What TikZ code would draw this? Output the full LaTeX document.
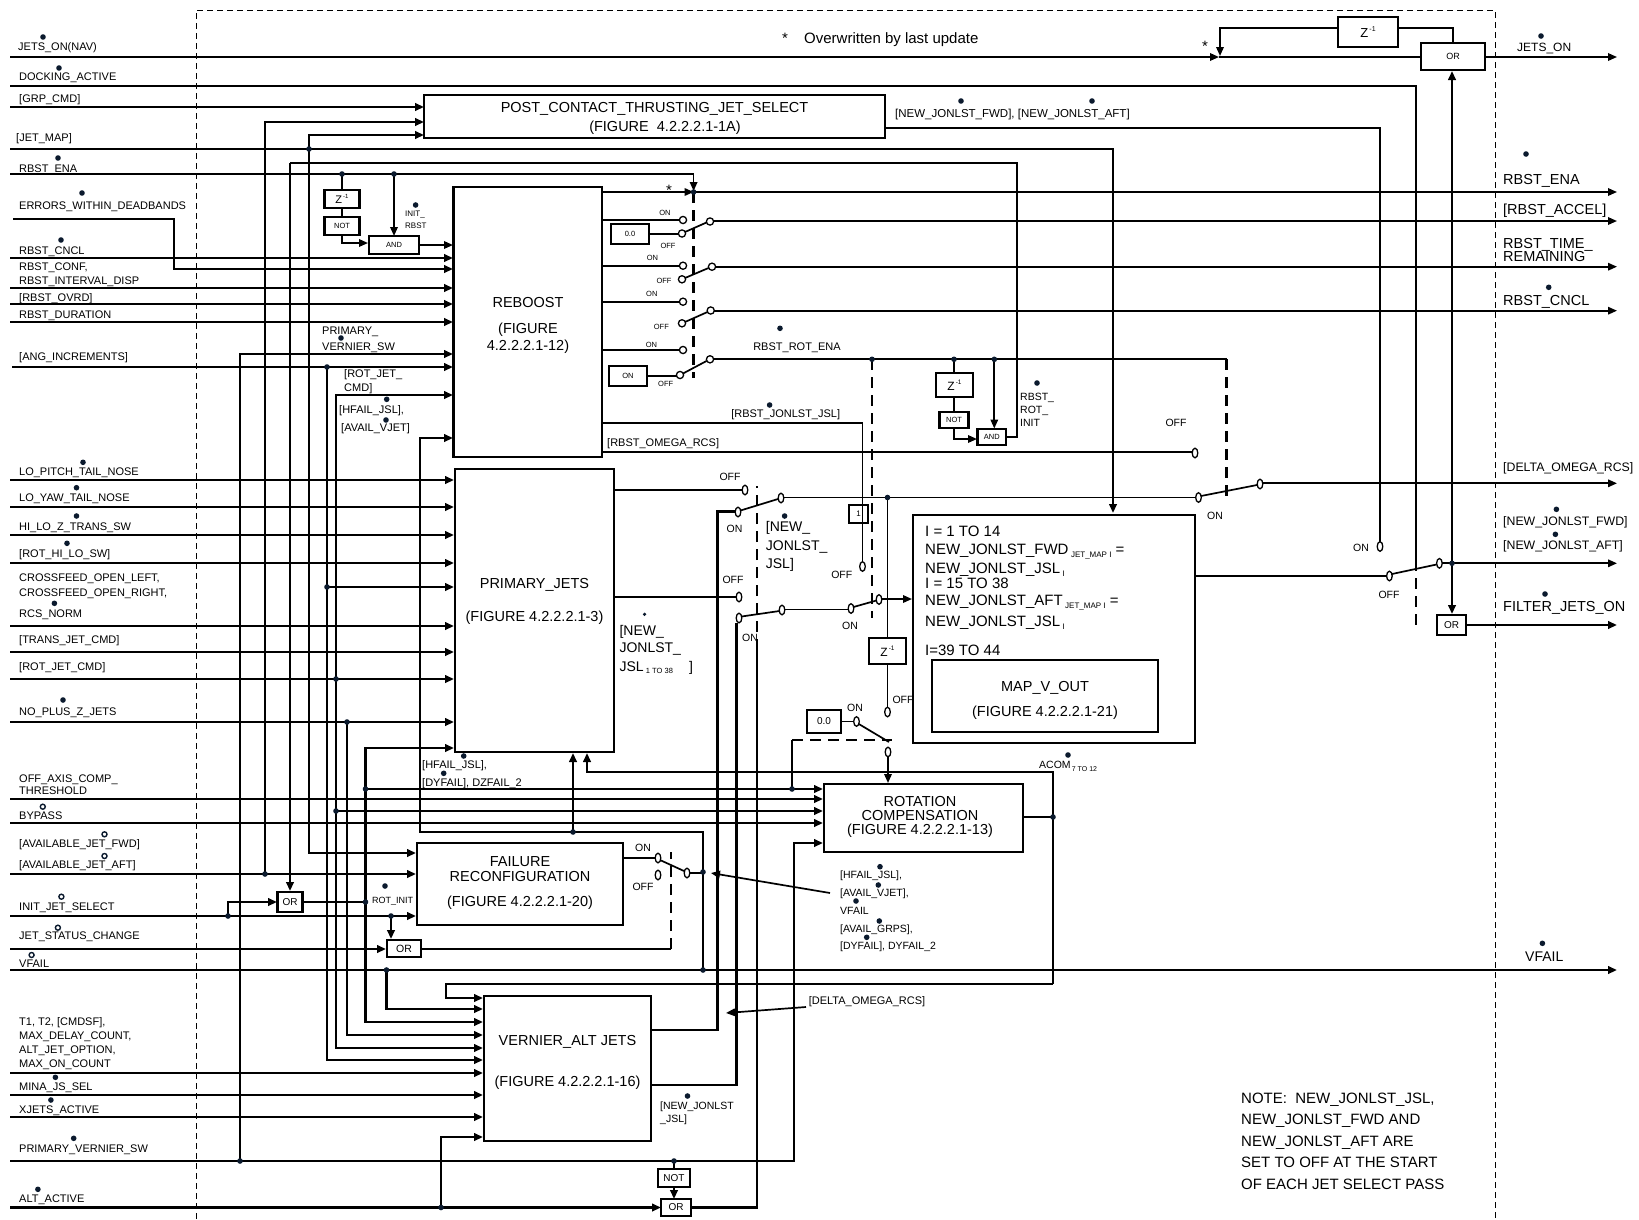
\documentclass[tikz,border=0pt]{standalone}
\usepackage{fontspec}
\setmainfont{Liberation Sans}
\usetikzlibrary{arrows.meta}
\definecolor{dotc}{HTML}{0B1A2E}
\newcommand{\fs}[1]{\fontsize{#1}{#1}\selectfont}
\newcommand{\zinv}[1]{Z\raisebox{0.5em}{\fontsize{#1}{#1}\selectfont\,-1}}
\newcommand{\ctc}[1]{\draw[line width=1.3pt,fill=white] (#1) ellipse (2.8pt and 4.8pt);}
\newcommand{\ctr}[1]{\draw[line width=1.3pt,fill=white] (#1) circle (3.6pt);}
\tikzset{
 w/.style={line width=2.5pt},
 t/.style={line width=1.7pt},
 arr/.style={-{Triangle[length=9pt,width=7.5pt]}},
 bx/.style={draw,line width=2.5pt,inner sep=0pt,fill=white},
 sbx/.style={draw,line width=2.1pt,inner sep=0pt,fill=white},
 ctl/.style={line width=2.5pt,dash pattern=on 11pt off 7pt},
 L/.style={anchor=base west,inner sep=0pt,font=\fs{#1},yshift={-0.36*#1pt}},
 C/.style={anchor=base,inner sep=0pt,font=\fs{#1},yshift={-0.36*#1pt}},
}
\begin{document}
\begin{tikzpicture}[x=1pt,y=-1pt]
\useasboundingbox (0,0) rectangle (1639,1219);
\fill[white] (0,0) rectangle (1639,1219);
% frame
\draw[line width=0.9pt,dash pattern=on 6pt off 4pt] (196,1219) -- (196,10) -- (1495,10) -- (1495,1219);

% ---------- wires ----------
% JETS_ON(NAV)
\draw[t,arr] (10,57) -- (1219,57);
\draw[t] (1219,57) -- (1421,57);
\draw[t] (1453,43) -- (1453,28) -- (1398,28);
\draw[t,arr] (1338,28) -- (1220,28) -- (1220,56);
% DOCKING_ACTIVE
\draw[w] (10,86) -- (1416,86) -- (1416,560);
\draw[ctl] (1416,560) -- (1416,628);
% GRP_CMD / JET_MAP
\draw[w,arr] (10,107) -- (424,107);
\draw[w,arr] (265,874) -- (265,122) -- (424,122);
\draw[w,arr] (10,149) -- (1113,149) -- (1113,513);
\draw[w,arr] (309,149) -- (309,135) -- (424,135);
\draw[w,arr] (309,149) -- (309,853) -- (416,853);
\draw[t] (885,128) -- (1380,128) -- (1380,542);
% RBST_ROT_INIT
\draw[t] (1006,437) -- (1017,437) -- (1017,163) -- (290,163);
\draw[w,arr] (290,163) -- (290,891);
% RBST_ENA
\draw[t,arr] (10,174) -- (693.6,174) -- (693.6,191);
\draw[t,arr] (602,192) -- (693.6,192);
\draw[t,arr] (693.6,192) -- (1617,192);
\draw[ctl] (693.6,192) -- (693.6,378);
\draw[t] (342,174) -- (342,190);
\draw[t] (342,208) -- (342,217);
\draw[t,arr] (342,235) -- (342,243) -- (368,243);
\draw[t,arr] (394,174) -- (394,236);
\draw[t,arr] (419,245) -- (453,245);
% REBOOST inputs
\draw[w,arr] (13,219) -- (174,219) -- (174,269) -- (453,269);
\draw[w,arr] (10,258) -- (453,258);
\draw[w,arr] (10,288) -- (453,288);
\draw[w,arr] (10,304) -- (453,304);
\draw[w,arr] (10,322) -- (453,322);
\draw[w,arr] (240,1161) -- (240,354) -- (453,354);
\draw[w,arr] (12,367) -- (453,367);
\draw[w,arr] (327,367) -- (327,1060) -- (483,1060);
\draw[w,arr] (327,587) -- (454,587);
\draw[w,arr] (336,679) -- (336,395) -- (453,395);
\draw[w,arr] (336,679) -- (336,1048) -- (483,1048);
\draw[w,arr] (336,811) -- (823,811);
\draw[w,arr] (703,872) -- (703,832) -- (420,832) -- (420,438) -- (453,438);
\draw[w] (703,872) -- (703,970);
\draw[w,arr] (573,832) -- (573,753);
% PRIMARY inputs
\foreach \yy in {480,507,535,563,626,652,679,722} {\draw[w,arr] (10,\yy) -- (454,\yy);}
\draw[w,arr] (347,722) -- (347,1035) -- (483,1035);
% ROT_INIT
\draw[w] (302,902) -- (365.5,902);
\draw[w,arr] (365.5,902) -- (365.5,748) -- (454,748);
\draw[w,arr] (365.5,789) -- (823,789);
\draw[w,arr] (365.5,902) -- (365.5,1022) -- (483,1022);
\draw[w] (792,789) -- (792,740);
\draw[ctl] (792,740) -- (892,740);
\draw[w,arr] (10,799) -- (823,799);
\draw[w,arr] (10,823) -- (823,823);
% PRIMARY_VERNIER_SW
\draw[w,arr] (10,1161) -- (794,1161) -- (794,843) -- (823,843);
\draw[w] (674,1161) -- (674,1169);
\draw[w,arr] (674,1187) -- (674,1199);
% ALT_ACTIVE
\draw[w,arr] (10,1207.5) -- (661,1207.5);
\draw[w,arr] (441,1207.5) -- (441,1137) -- (483,1137);
\draw[w] (691,1207.5) -- (757,1207.5) -- (757,650);
\draw[ctl] (757,650) -- (757,486);
% FAILURE inputs
\draw[w,arr] (10,874) -- (416,874);
\draw[w,arr] (10,916) -- (416,916);
\draw[w,arr] (228,916) -- (228,902) -- (277,902);
\draw[w,arr] (391,916) -- (391,939);
\draw[w,arr] (10,949) -- (386,949);
\draw[w] (421,949) -- (671,949);
\draw[ctl] (671,949) -- (671,852);
% VFAIL
\draw[w,arr] (10,970) -- (1617,970);
\draw[w,arr] (386.5,970) -- (386.5,1009) -- (483,1009);
% ACOM
\draw[w] (1023,817) -- (1053,817);
\draw[w,arr] (1053,984) -- (1053,772) -- (587,772) -- (587,753);
\draw[w,arr] (1053,984) -- (446,984) -- (446,998) -- (483,998);
\draw[w,arr] (10,1073) -- (483,1073);
\draw[w,arr] (10,1095) -- (483,1095);
\draw[w,arr] (10,1117) -- (483,1117);
% FAILURE switch
\draw[t] (623,858) -- (655,858);
\draw[t] (660,860) -- (684,871);
\draw[t] (690,873) -- (703,873);
\draw[t,arr] (830,893) -- (711,873);
% VERNIER outputs
\draw[w] (651,1030) -- (717.5,1030) -- (717.5,511.7) -- (735,511.7);
\draw[w] (651,1085) -- (736.4,1085) -- (736.4,623);
\draw[t,arr] (806,1007) -- (726,1013);
% PRIMARY switches
\draw[t] (614,490) -- (742,490);
\draw[t] (740.5,510.5) -- (778,499);
\draw[t] (784,497.5) -- (1196,497.5);
\draw[t] (614,597) -- (736,597);
\draw[t] (741.5,616.5) -- (779.5,611);
\draw[t] (785,609.5) -- (848,609.5);
\draw[t] (853.5,607) -- (876.5,600.5);
\draw[t,arr] (882,599) -- (912,599);
\draw[t] (602,423) -- (862.5,423) -- (862.5,562);
\draw[ctl] (872,359) -- (872,618);
\draw[t] (887.5,497.5) -- (887.5,638);
\draw[t] (887.5,664) -- (887.5,708);
% 0.0 switch
\draw[t] (841,721.5) -- (853.5,721.5);
\draw[t] (858,723.5) -- (889,742);
\draw[t,arr] (888,756) -- (888,783);
% REBOOST switches
\draw[t] (602,220) -- (679.5,220);
\draw[t] (649,234) -- (678.5,234);
\draw[t] (685,232) -- (706.5,222.5);
\draw[t,arr] (713.5,221) -- (1617,221);
\draw[t] (602,265.7) -- (679.5,265.7);
\draw[t] (685,278) -- (708.5,268);
\draw[t,arr] (715.5,266.7) -- (1617,266.7);
\draw[t] (602,301.7) -- (679.5,301.7);
\draw[t] (685,322) -- (707.5,312);
\draw[t,arr] (714,310.7) -- (1617,310.7);
\draw[t] (602,350) -- (679.5,350);
\draw[t] (647,376) -- (676.5,376);
\draw[t] (683,373.5) -- (706.5,361);
\draw[t] (713.5,359.3) -- (1226.6,359.3);
\draw[ctl] (1226.6,359.3) -- (1226.6,502);
\draw[t] (954,359.3) -- (954,373);
\draw[t] (954,397) -- (954,412);
\draw[t,arr] (954,428) -- (954,439) -- (977,439);
\draw[t,arr] (994.3,359.3) -- (994.3,428.5);
% RBST_OMEGA / DELTA switch
\draw[t] (602,452.3) -- (1192,452.3);
\draw[t] (1201,496) -- (1257,485);
\draw[t,arr] (1263,483.3) -- (1617,483.3);
% MAP output switch
\draw[t] (1195,576) -- (1386.5,576);
\draw[t] (1392,574) -- (1436.5,564.5);
\draw[t,arr] (1442.3,563.3) -- (1617,563.3);
\draw[w,arr] (1452,563.3) -- (1452,71);
\draw[w,arr] (1452,563.3) -- (1452,614);
\draw[w,arr] (1466,625) -- (1617,625);
\draw[t,arr] (1485,57) -- (1617,57);

% ---------- boxes ----------
\node[bx,minimum width=461pt,minimum height=43pt] (post) at (654.5,116.5) {};
\node[bx,minimum width=148.5pt,minimum height=270pt] (reboost) at (527.75,322) {};
\node[bx,minimum width=159pt,minimum height=283pt] (prim) at (534.5,610.5) {};
\node[bx,minimum width=206pt,minimum height=82pt] (fail) at (520,884) {};
\node[bx,minimum width=167pt,minimum height=145pt] (vern) at (567.5,1068.5) {};
\node[bx,minimum width=199pt,minimum height=68pt] (rot) at (923.5,818) {};
\node[bx,minimum width=282pt,minimum height=228pt] (map) at (1054,629) {};
\node[bx,minimum width=226pt,minimum height=72pt] (mapv) at (1045,696) {};
\node[sbx,minimum width=60pt,minimum height=30pt] (zA) at (1368,32) {\fs{13}\zinv{7}};
\node[sbx,minimum width=64pt,minimum height=27pt] (orA) at (1453,56.5) {\fs{9}OR};
\node[sbx,minimum width=29pt,minimum height=20pt] (orF) at (1451.5,625) {\fs{10}OR};
\node[sbx,minimum width=35pt,minimum height=18pt] (zR) at (342,199) {\fs{11}\zinv{6}};
\node[sbx,minimum width=35pt,minimum height=18pt] (notR) at (342,226) {\fs{7.5}NOT};
\node[sbx,minimum width=50.5pt,minimum height=18pt] (andR) at (394,245) {\fs{7.5}AND};
\node[sbx,minimum width=37pt,minimum height=24pt] (zK) at (954.5,385) {\fs{12}\zinv{6.5}};
\node[sbx,minimum width=29pt,minimum height=16pt] (notK) at (954,420) {\fs{7.5}NOT};
\node[sbx,minimum width=28.5pt,minimum height=16pt] (andK) at (991.75,437) {\fs{7.5}AND};
\node[sbx,minimum width=37pt,minimum height=26pt] (zP) at (887.5,651) {\fs{12}\zinv{6.5}};
\node[draw,line width=2.1pt,inner sep=0pt,minimum width=19pt,minimum height=18pt] (box1) at (858.5,514) {\fs{8}1};
\node[sbx,minimum width=38pt,minimum height=20pt] (c00) at (630,234) {\fs{7.5}0.0};
\node[sbx,minimum width=38pt,minimum height=20pt] (cON) at (628,376) {\fs{7.5}ON};
\node[sbx,minimum width=34pt,minimum height=23pt] (c00b) at (824,721.5) {\fs{10}0.0};
\node[sbx,minimum width=25pt,minimum height=20pt] (orI) at (290,902) {\fs{10}OR};
\node[sbx,minimum width=34pt,minimum height=17pt] (orS) at (404,948.5) {\fs{10.5}OR};
\node[sbx,minimum width=32pt,minimum height=18pt] (notV) at (674,1178) {\fs{10}NOT};
\node[sbx,minimum width=30pt,minimum height=17pt] (orV) at (676,1207.5) {\fs{10}OR};

% ---------- contacts ----------
\ctc{658,858} \ctc{658,875} \ctc{687,873}
\ctc{745,490} \ctc{738,512} \ctc{781,498}
\ctc{739,597} \ctc{739,618} \ctc{782,610}
\ctc{851,608.5} \ctc{879,599.5} \ctc{862.5,566.5}
\ctc{887.5,712} \ctc{856.5,721.5} \ctc{888,752}
\ctr{683,220} \ctr{682,233.5} \ctr{710,221.5}
\ctr{683,265.7} \ctr{682,279.3} \ctr{712,266.7}
\ctr{683,301.7} \ctr{682,323.3} \ctr{710.7,310.5}
\ctr{683,350} \ctr{680,375} \ctr{710,359.3}
\ctc{1195,453} \ctc{1198.5,497.5} \ctc{1260,484}
\ctc{1389.4,576} \ctc{1380,546.5} \ctc{1439.4,563.3}

% ---------- junction dots ----------
\foreach \p in {{309,149},{342,174},{394,174},{693.6,192},{327,367},{327,587},{336,679},{336,811},{347,722},{365.5,789},{365.5,902},{792,789},{265,874},{228,916},{391,916},{386.5,970},{703,970},{703,872},{573,832},{240,1161},{674,1161},{441,1207.5},{1053,817},{872,359.3},{954,359.3},{994.3,359.3},{887.5,497.5},{1452,563.3}} {\fill[dotc] (\p) circle (2.8pt);}

% ---------- label bullets ----------
\foreach \p in {{43,37},{59,68},{58,158},{82,193},{61,240},{415.6,205},{341,338},{386.7,399.3},{386,420},{83,462.3},{76.5,487.7},{76.5,516},{67,543.3},{54.4,603.3},{63,700},{463.7,756},{443.7,773.3},{385,886},{55.4,1077.3},{50.9,1100},{73.7,1138.3},{37.9,1189.3},{1541,36},{1526,154},{1548.7,287.3},{1556.4,509.3},{1555.4,534.3},{1545,594},{1542.4,943.3},{961,101},{1092,101},{780,328.3},{769.6,405},{1037,383},{784.6,516},{1068,755},{880,866.7},{878.3,885},{856,901},{879.3,921},{866.7,937.3},{687.5,1096}} {\fill[dotc] (\p) circle (2.8pt);}
\fill[dotc] (644.6,614.3) circle (1.8pt);
\foreach \p in {{42.8,806.7},{104.5,834.3},{104.5,856},{61.4,896.7},{57.9,927.7},{31.6,955}} {\draw[dotc,line width=1.4pt,fill=white] (\p) circle (2.5pt);}

% ---------- left labels ----------
\node[L=11] (l1) at (18,47) {JETS\_ON(NAV)};
\node[L=11] (l2) at (19,77) {DOCKING\_ACTIVE};
\node[L=11] (l3) at (19,99) {[GRP\_CMD]};
\node[L=11] (l4) at (16,138) {[JET\_MAP]};
\node[L=11] (l5) at (19,169) {RBST\_ENA};
\node[L=11] (l6) at (19,206) {ERRORS\_WITHIN\_DEADBANDS};
\node[L=11] (l7) at (19,251) {RBST\_CNCL};
\node[L=11] (l8) at (19,267) {RBST\_CONF,};
\node[L=11] (l9) at (19,281) {RBST\_INTERVAL\_DISP};
\node[L=11] (l10) at (19,298) {[RBST\_OVRD]};
\node[L=11] (l11) at (19,315) {RBST\_DURATION};
\node[L=11] (l12) at (19,357) {[ANG\_INCREMENTS]};
\node[L=11] (l13) at (322,331) {PRIMARY\_};
\node[L=11] (l14) at (322,347) {VERNIER\_SW};
\node[L=11] (l15) at (344,374) {[ROT\_JET\_};
\node[L=11] (l16) at (344,388) {CMD]};
\node[L=11] (l17) at (339,410) {[HFAIL\_JSL],};
\node[L=11] (l18) at (341,428) {[AVAIL\_VJET]};
\node[L=11] (l19) at (19,471.7) {LO\_PITCH\_TAIL\_NOSE};
\node[L=11] (l20) at (19,497.7) {LO\_YAW\_TAIL\_NOSE};
\node[L=11] (l21) at (19,526.7) {HI\_LO\_Z\_TRANS\_SW};
\node[L=11] (l22) at (19,554) {[ROT\_HI\_LO\_SW]};
\node[L=11] (l23) at (19,577.3) {CROSSFEED\_OPEN\_LEFT,};
\node[L=11] (l24) at (19,592.3) {CROSSFEED\_OPEN\_RIGHT,};
\node[L=11] (l25) at (19,613.3) {RCS\_NORM};
\node[L=11] (l26) at (19,639.3) {[TRANS\_JET\_CMD]};
\node[L=11] (l27) at (19,666.7) {[ROT\_JET\_CMD]};
\node[L=11] (l28) at (19,711.7) {NO\_PLUS\_Z\_JETS};
\node[L=11] (l29) at (422,765) {[HFAIL\_JSL],};
\node[L=11] (l30) at (422,782.7) {[DYFAIL], DZFAIL\_2};
\node[L=11] (l31) at (19,778.3) {OFF\_AXIS\_COMP\_};
\node[L=11] (l32) at (19,791) {THRESHOLD};
\node[L=11] (l33) at (19,815.7) {BYPASS};
\node[L=11] (l34) at (19,843.3) {[AVAILABLE\_JET\_FWD]};
\node[L=11] (l35) at (19,865) {[AVAILABLE\_JET\_AFT]};
\node[L=11] (l36) at (19,906.7) {INIT\_JET\_SELECT};
\node[L=9] (l37) at (372,900) {ROT\_INIT};
\node[L=11] (l38) at (19,935.7) {JET\_STATUS\_CHANGE};
\node[L=11] (l39) at (19,964) {VFAIL};
\node[L=11] (l40) at (19,1021.7) {T1, T2, [CMDSF],};
\node[L=11] (l41) at (19,1036) {MAX\_DELAY\_COUNT,};
\node[L=11] (l42) at (19,1050) {ALT\_JET\_OPTION,};
\node[L=11] (l43) at (19,1064) {MAX\_ON\_COUNT};
\node[L=11] (l44) at (19,1086.7) {MINA\_JS\_SEL};
\node[L=11] (l45) at (19,1110) {XJETS\_ACTIVE};
\node[L=11] (l46) at (19,1148.3) {PRIMARY\_VERNIER\_SW};
\node[L=11] (l47) at (19,1199) {ALT\_ACTIVE};
\node[L=8] (l48) at (405,214) {INIT\_};
\node[L=8] (l49) at (405,226) {RBST};

% ---------- right labels ----------
\node[L=12] (o1) at (1517,47) {JETS\_ON};
\node[L=14.5] (o2) at (1503,179) {RBST\_ENA};
\node[L=14.5] (o3) at (1503,209) {[RBST\_ACCEL]};
\node[L=14.5] (o4) at (1503,243.3) {RBST\_TIME\_};
\node[L=14.5] (o5) at (1503,256.7) {REMAINING};
\node[L=14.5] (o6) at (1503,300) {RBST\_CNCL};
\node[L=12.3] (o7) at (1503,466.7) {[DELTA\_OMEGA\_RCS]};
\node[L=12.3] (o8) at (1503,520.7) {[NEW\_JONLST\_FWD]};
\node[L=12.3] (o9) at (1503,545) {[NEW\_JONLST\_AFT]};
\node[L=14.5] (o10) at (1503,606.7) {FILTER\_JETS\_ON};
\node[L=14] (o11) at (1525,956.7) {VFAIL};

% ---------- box texts ----------
\node[C=14.5] (tp1) at (654.5,107) {POST\_CONTACT\_THRUSTING\_JET\_SELECT};
\node[C=14.5] (tp2) at (665,126) {(FIGURE~~4.2.2.2.1-1A)};
\node[C=14.5] (tr1) at (528,302) {REBOOST};
\node[C=14.5] (tr2) at (528,328) {(FIGURE};
\node[C=14.5] (tr3) at (528,345) {4.2.2.2.1-12)};
\node[C=14.5] (tq1) at (534.5,583.3) {PRIMARY\_JETS};
\node[C=14.5] (tq2) at (534.5,616) {(FIGURE 4.2.2.2.1-3)};
\node[C=14.5] (tf1) at (520,861) {FAILURE};
\node[C=14.5] (tf2) at (520,876.7) {RECONFIGURATION};
\node[C=14.5] (tf3) at (520,901) {(FIGURE 4.2.2.2.1-20)};
\node[C=14.5] (tv1) at (567.5,1040.7) {VERNIER\_ALT JETS};
\node[C=14.5] (tv2) at (567.5,1081) {(FIGURE 4.2.2.2.1-16)};
\node[C=14.5] (tc1) at (920,801.7) {ROTATION};
\node[C=14.5] (tc2) at (920,815) {COMPENSATION};
\node[C=14.5] (tc3) at (920,829.3) {(FIGURE 4.2.2.2.1-13)};
\node[C=14.5] (tm1) at (1045,686.7) {MAP\_V\_OUT};
\node[C=14.5] (tm2) at (1045,711.7) {(FIGURE 4.2.2.2.1-21)};
\node[L=15] (m1) at (925,531) {I = 1 TO 14};
\node[L=15] (m2) at (925,549.3) {NEW\_JONLST\_FWD\,\raisebox{-3pt}{\fs{8}JET\_MAP I} =};
\node[L=15] (m3) at (925,568.3) {NEW\_JONLST\_JSL\,\raisebox{-3pt}{\fs{8}I}};
\node[L=15] (m4) at (925,583.3) {I = 15 TO 38};
\node[L=15] (m5) at (925,600) {NEW\_JONLST\_AFT\,\raisebox{-3pt}{\fs{8}JET\_MAP I} =};
\node[L=15] (m6) at (925,620.7) {NEW\_JONLST\_JSL\,\raisebox{-3pt}{\fs{8}I}};
\node[L=15] (m7) at (925,650) {I=39 TO 44};

% ---------- misc labels ----------
\node[C=15] (st1) at (785,38) {*};
\node[L=15] (ow) at (804,38) {Overwritten by last update};
\node[C=15] (st2) at (1205,46) {*};
\node[C=15] (st3) at (669,190) {*};
\node[L=11.5] (nj) at (895,113) {[NEW\_JONLST\_FWD], [NEW\_JONLST\_AFT]};
\foreach \nm/\xx/\yy/\tx in {s1/665/212.3/ON,s2/668/245.7/OFF,s3/652.5/257.3/ON,s4/664/280.7/OFF,s5/651.8/293.3/ON,s6/661.4/326.7/OFF,s7/651.4/344.3/ON,s8/665.7/383.3/OFF}
  {\node[C=7.5] (\nm) at (\xx,\yy) {\tx};}
\foreach \nm/\xx/\yy/\tx in {s9/730/476.7/OFF,s10/734.6/529/ON,s11/733/580/OFF,s12/750/637.3/ON,s13/841.8/575/OFF,s14/850/626/ON,s15/1176/423/OFF,s16/1215/516/ON,s17/903/700/OFF,s18/855/708/ON,s19/1361/548/ON,s20/1389/595/OFF,s21/643/848/ON,s22/643/886.7/OFF}
  {\node[C=10.5] (\nm) at (\xx,\yy) {\tx};}
\node[C=11] (rre) at (797,346.7) {RBST\_ROT\_ENA};
\node[C=11] (rjj) at (785.7,413.3) {[RBST\_JONLST\_JSL]};
\node[L=11] (ror) at (607,442.7) {[RBST\_OMEGA\_RCS]};
\node[L=10.5] (rri1) at (1020,397) {RBST\_};
\node[L=10.5] (rri2) at (1020,410) {ROT\_};
\node[L=10.5] (rri3) at (1020,423) {INIT};
\node[L=14] (nj1) at (765.7,526.7) {[NEW\_};
\node[L=14] (nj2) at (765.7,545) {JONLST\_};
\node[L=14] (nj3) at (765.7,563.3) {JSL]};
\node[L=14] (nk1) at (619.3,630) {[NEW\_};
\node[L=14] (nk2) at (619.3,647.7) {JONLST\_};
\node[L=14] (nk3) at (619.3,666.7) {JSL\,\raisebox{-1.5pt}{\fs{7.5}1 TO 38}};
\node[L=14] (nk4) at (689,666.7) {]};
\node[L=10.5] (acom) at (1039,765) {ACOM\raisebox{-3pt}{\fs{7}\,7 TO 12}};
\node[L=10.5] (h1) at (840,874.3) {[HFAIL\_JSL],};
\node[L=10.5] (h2) at (840,892.3) {[AVAIL\_VJET],};
\node[L=10.5] (h3) at (840,910.7) {VFAIL};
\node[L=10.5] (h4) at (840,928.3) {[AVAIL\_GRPS],};
\node[L=10.5] (h5) at (840,946) {[DYFAIL], DYFAIL\_2};
\node[L=11] (dor) at (808.6,1001) {[DELTA\_OMEGA\_RCS]};
\node[L=10.5] (nv1) at (660,1106) {[NEW\_JONLST};
\node[L=10.5] (nv2) at (660,1119) {\_JSL]};
\node[L=15] (n1) at (1241,1098.3) {NOTE:~~NEW\_JONLST\_JSL,};
\node[L=15] (n2) at (1241,1119) {NEW\_JONLST\_FWD AND};
\node[L=15] (n3) at (1241,1140.7) {NEW\_JONLST\_AFT ARE};
\node[L=15] (n4) at (1241,1162.3) {SET TO OFF AT THE START};
\node[L=15] (n5) at (1241,1184.3) {OF EACH JET SELECT PASS};
\end{tikzpicture}
\end{document}
